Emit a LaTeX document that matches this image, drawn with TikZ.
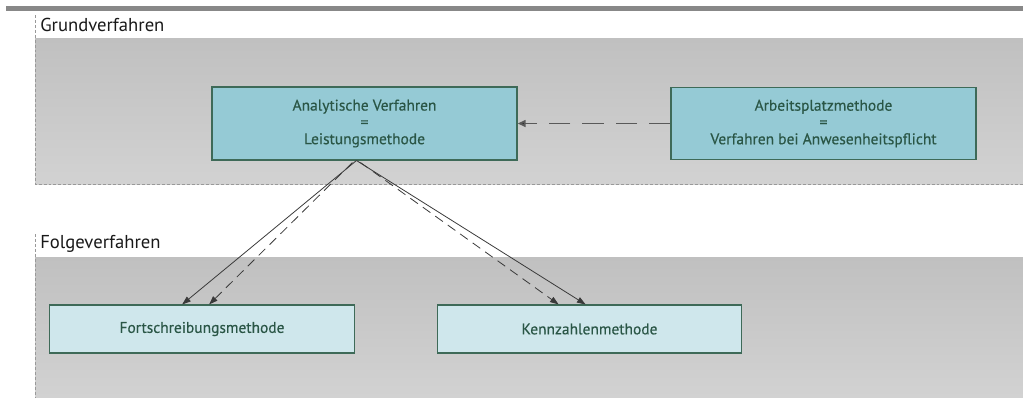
\documentclass[tikz,border=0pt]{standalone}
\usepackage{fontspec}
\setmainfont{PT Sans}
\newfontfamily\boxfont{PT Sans}[BoldFont={PT Sans},BoldFeatures={FakeBold=0.35}]
\usetikzlibrary{arrows.meta,calc}
\definecolor{panelTop}{HTML}{C0C0C0}
\definecolor{panelBot}{HTML}{D2D2D2}
\definecolor{barGray}{HTML}{888888}
\definecolor{borderGray}{HTML}{999999}
\definecolor{boxDark}{HTML}{95CAD5}
\definecolor{boxLight}{HTML}{CFE7EC}
\definecolor{boxLine}{HTML}{3E6A58}
\definecolor{boxText}{HTML}{2A5646}
\definecolor{arrowGray}{HTML}{3A3A3A}
\tikzset{
  panelline/.style={draw=borderGray, line width=0.6pt, dash pattern=on 2.2pt off 1.5pt},
  lbl/.style={font=\fontsize{14}{16}\selectfont, text=black!90, inner sep=0pt},
  darkbox/.style={draw=boxLine, fill=boxDark, line width=0.8pt, inner sep=0pt,
    minimum width=228.75pt, align=center, text=boxText,
    font=\boxfont\bfseries\fontsize{11.6}{12.6}\selectfont},
  lightbox/.style={draw=boxLine, fill=boxLight, line width=0.8pt, inner sep=0pt,
    minimum width=228.5pt, minimum height=36pt, align=center, text=boxText,
    font=\boxfont\bfseries\fontsize{11.6}{12.6}\selectfont},
  solidarrow/.style={draw=arrowGray, line width=0.6pt, -{Triangle[length=6.5pt,width=4.5pt]}},
  dasharrow/.style={draw=arrowGray, line width=0.6pt, dash pattern=on 7pt off 4.5pt,
    -{Triangle[length=6.5pt,width=4.5pt]}},
  hdasharrow/.style={draw=black!65, line width=1.4pt, dash pattern=on 16pt off 9pt,
    -{Triangle[length=6pt,width=5pt,fill=black]}}
}
\begin{document}
\begin{tikzpicture}[x=0.75pt,y=-0.75pt]
\useasboundingbox (0,0) rectangle (1023,400);
% top bar
\fill[barGray] (6,6) rectangle (1023,11);
% panels
\shade[top color=panelTop, bottom color=panelBot] (35,38) rectangle (1023,184);
\shade[top color=panelTop, bottom color=panelBot] (35,257) rectangle (1023,397);
\draw[panelline] (35,15) -- (35,184) -- (1023,184);
\draw[panelline] (35,234) -- (35,397);
\node[lbl, anchor=base west] (lg) at (40,31) {Grundverfahren};
\node[lbl, anchor=base west] (lf) at (40,248) {Folgeverfahren};
% boxes
\node[darkbox, minimum height=54.75pt] (b1) at (364.5,123.5) {Analytische Verfahren\\=\\Leistungsmethode};
\node[darkbox, minimum height=54pt] (b2) at (823.5,123.5) {Arbeitsplatzmethode\\=\\Verfahren bei Anwesenheitspflicht};
\node[lightbox] (b3) at (202,329) {Fortschreibungsmethode};
\node[lightbox] (b4) at (589.5,329) {Kennzahlenmethode};
% connectors
\coordinate (apex) at ($(b1.south west)+(145,0)$);
\coordinate (apexl) at ($(b1.south west)+(141,2)$);
\coordinate (apexr) at ($(b1.south west)+(149,2)$);
\draw[hdasharrow] (b2.west) -- (b1.east);
\draw[solidarrow] (apex) -- ($(b3.north west)+(133,0)$);
\draw[dasharrow] (apexl) -- ($(b3.north west)+(160,0)$);
\draw[dasharrow] (apexr) -- ($(b4.north west)+(122,0)$);
\draw[solidarrow] (apex) -- ($(b4.north west)+(149,0)$);
\end{tikzpicture}
\end{document}
